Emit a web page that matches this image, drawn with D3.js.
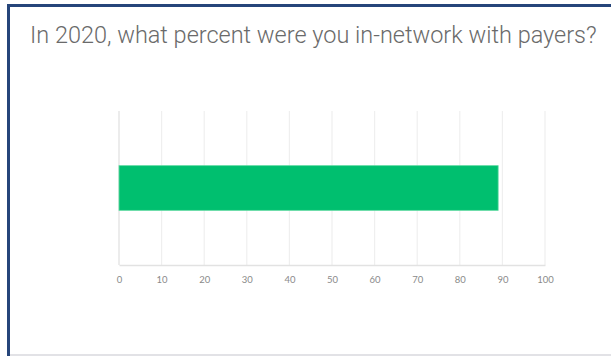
<!DOCTYPE html>
<html>
<head>
<meta charset="utf-8">
<script src="https://cdn.jsdelivr.net/npm/d3@7"></script>
<style>
  html, body { margin: 0; padding: 0; background: #fff; }
  svg { display: block; }
</style>
</head>
<body>
<svg id="chart" width="611" height="356"></svg>
<script>
// Survey question and its single answer bar
const title = "In 2020, what percent were you in-network with payers?";
const categories = ["In-network"];
const values = [89];
const tickValues = [0, 10, 20, 30, 40, 50, 60, 70, 80, 90, 100];

const svg = d3.select("#chart");
const W = 611, H = 356;

// Panel frame: dark blue top and left edges, faint grey bottom rule
svg.append("rect").attr("x", 0).attr("y", 0).attr("width", W).attr("height", H).attr("fill", "#fff");
svg.append("rect").attr("x", 7).attr("y", 4).attr("width", W - 7).attr("height", 3).attr("fill", "#26457a");
svg.append("rect").attr("x", 7).attr("y", 4).attr("width", 3).attr("height", H - 4).attr("fill", "#26457a");
svg.append("rect").attr("x", 10).attr("y", 354).attr("width", W - 10).attr("height", 2).attr("fill", "#e2e2e6");

// Title, fitted to its width
const t = svg.append("text")
  .attr("x", 30).attr("y", 43)
  .attr("font-family", "Roboto, 'Open Sans', sans-serif")
  .attr("font-weight", 300)
  .attr("font-size", 20)
  .attr("fill", "#6a6a6a")
  .text(title);
const targetW = 567;
const w0 = t.node().getComputedTextLength();
t.attr("font-size", 20 * targetW / w0);

// Scales
const x = d3.scaleLinear().domain([0, 100]).range([119, 545]);
const y = d3.scaleBand().domain(categories).range([111, 265]).paddingInner(0.55).paddingOuter(0.55);

// Vertical gridlines
svg.append("g")
  .selectAll("line")
  .data(tickValues.filter(d => d > 0))
  .join("line")
  .attr("x1", d => x(d)).attr("x2", d => x(d))
  .attr("y1", 111).attr("y2", 265)
  .attr("stroke", "#efefef").attr("stroke-width", 1.2);

// Left axis line
svg.append("line")
  .attr("x1", x(0)).attr("x2", x(0)).attr("y1", 111).attr("y2", 265)
  .attr("stroke", "#e6e6e6").attr("stroke-width", 1.5);

// Bars
svg.append("g")
  .selectAll("rect")
  .data(categories.map((c, i) => ({ c, v: values[i] })))
  .join("rect")
  .attr("x", x(0))
  .attr("y", d => y(d.c))
  .attr("width", d => x(d.v) - x(0))
  .attr("height", y.bandwidth())
  .attr("fill", "#00bf6f")
  .attr("stroke", "#5fd9a2")
  .attr("stroke-width", 0.8);

// Bottom axis
const xAxis = d3.axisBottom(x).tickValues(tickValues).tickSize(0).tickPadding(11);
const ax = svg.append("g").attr("transform", "translate(0,265)").call(xAxis);
ax.select(".domain").attr("stroke", "#e2e2e2").attr("stroke-width", 1.6);
ax.selectAll("text")
  .attr("font-family", "Lato, 'Open Sans', sans-serif")
  .attr("font-size", 9.5)
  .attr("fill", "#8a8a8a");
</script>
</body>
</html>
